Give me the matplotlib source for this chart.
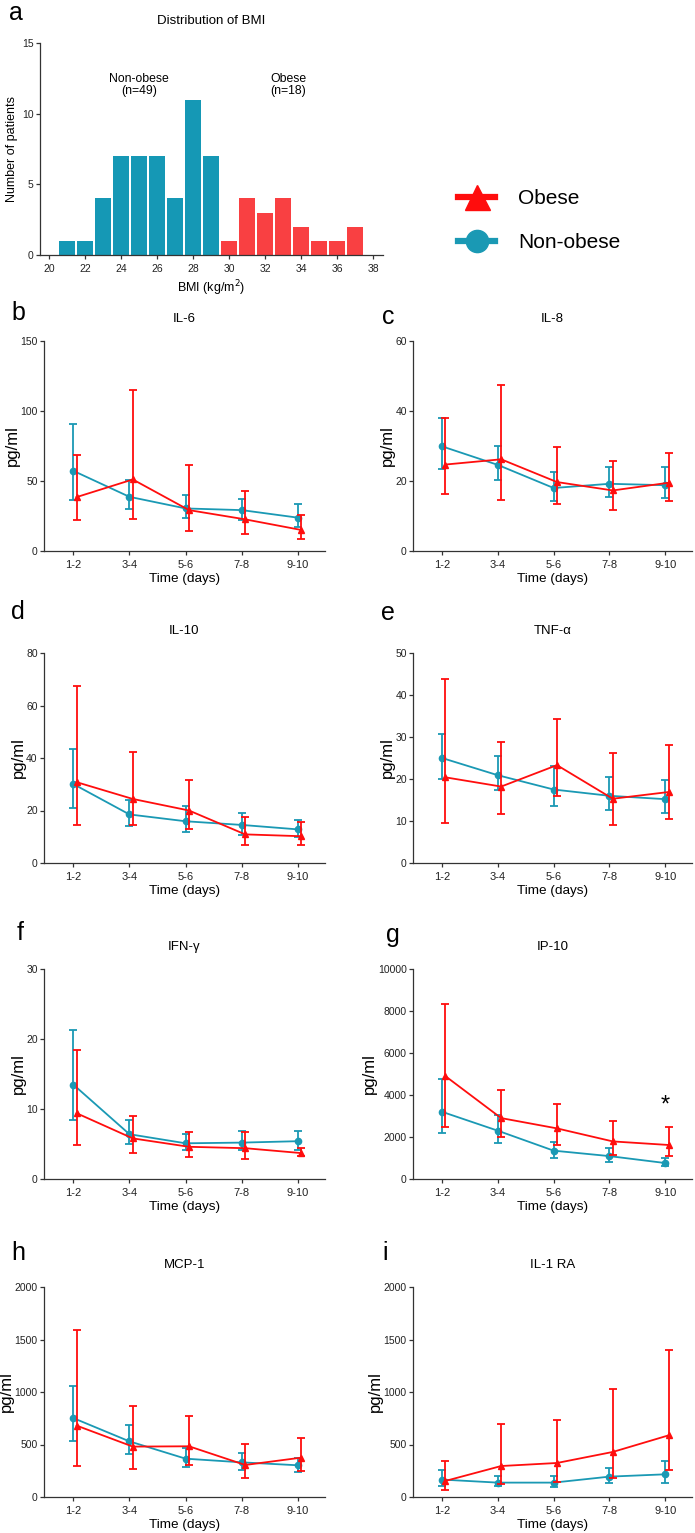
import numpy as np
import matplotlib
matplotlib.use("Agg")
import matplotlib.pyplot as plt
from matplotlib.lines import Line2D

plt.rcParams['font.family'] = ['Liberation Sans', 'DejaVu Sans']

W, H = 695, 1533
BLUE = '#1a99b4'
RED = '#ff0d0d'
HIST_BLUE = '#1598b5'
HIST_RED = '#f94042'
AXC = '#333333'

# histogram data
bmi_nonobese = [21, 22, 23, 24, 25, 26, 27, 28, 29]
count_nonobese = [1, 1, 4, 7, 7, 7, 4, 11, 7]
bmi_obese = [30, 31, 32, 33, 34, 35, 36, 37]
count_obese = [1, 4, 3, 4, 2, 1, 1, 2]

times = ['1-2', '3-4', '5-6', '7-8', '9-10']

# median and error bar ends
il6_non = [57.3, 38.7, 30.4, 29.2, 23.8]
il6_non_lo = [36.4, 29.7, 23.8, 22.0, 16.9]
il6_non_hi = [90.6, 51.0, 39.9, 36.8, 33.3]
il6_ob = [38.5, 51.1, 29.2, 22.6, 15.0]
il6_ob_lo = [21.9, 23.1, 14.0, 11.9, 8.6]
il6_ob_hi = [68.9, 114.8, 61.3, 42.8, 25.9]

il8_non = [29.9, 24.6, 18.0, 19.2, 18.8]
il8_non_lo = [23.5, 20.4, 14.3, 15.5, 15.0]
il8_non_hi = [38.0, 30.0, 22.7, 24.0, 23.9]
il8_ob = [24.7, 26.2, 19.7, 17.3, 19.5]
il8_ob_lo = [16.2, 14.5, 13.3, 11.7, 14.2]
il8_ob_hi = [38.0, 47.5, 29.7, 25.7, 28.0]

il10_non = [30.1, 18.5, 15.9, 14.5, 12.8]
il10_non_lo = [21.1, 14.2, 11.8, 10.5, 9.9]
il10_non_hi = [43.4, 24.0, 21.9, 19.1, 16.2]
il10_ob = [30.8, 24.4, 20.0, 10.9, 10.2]
il10_ob_lo = [14.4, 14.4, 12.8, 7.0, 7.0]
il10_ob_hi = [67.5, 42.4, 31.6, 17.6, 15.7]

tnf_non = [25.0, 20.9, 17.5, 16.0, 15.2]
tnf_non_lo = [20.1, 17.3, 13.5, 12.6, 11.8]
tnf_non_hi = [30.7, 25.4, 23.0, 20.4, 19.7]
tnf_ob = [20.4, 18.2, 23.3, 15.3, 16.9]
tnf_ob_lo = [9.6, 11.6, 16.0, 9.1, 10.5]
tnf_ob_hi = [43.8, 28.7, 34.4, 26.1, 28.0]

ifn_non = [13.5, 6.4, 5.1, 5.2, 5.4]
ifn_non_lo = [8.5, 5.0, 4.2, 4.1, 4.2]
ifn_non_hi = [21.3, 8.4, 6.4, 6.8, 6.9]
ifn_ob = [9.4, 5.8, 4.6, 4.4, 3.7]
ifn_ob_lo = [4.9, 3.7, 3.1, 2.9, 3.3]
ifn_ob_hi = [18.4, 9.0, 6.7, 6.7, 4.4]

ip10_non = [3200, 2300, 1350, 1090, 760]
ip10_non_lo = [2170, 1700, 1015, 810, 620]
ip10_non_hi = [4740, 3070, 1775, 1460, 980]
ip10_ob = [4900, 2900, 2410, 1790, 1620]
ip10_ob_lo = [2490, 2010, 1620, 1140, 1090]
ip10_ob_hi = [8350, 4230, 3570, 2770, 2460]

mcp_non = [752, 530, 365, 330, 302]
mcp_non_lo = [533, 410, 286, 254, 238]
mcp_non_hi = [1057, 689, 470, 419, 371]
mcp_ob = [680, 480, 483, 305, 375]
mcp_ob_lo = [295, 267, 302, 184, 251]
mcp_ob_hi = [1590, 867, 768, 508, 562]

il1ra_non = [166, 137, 137, 194, 216]
il1ra_non_lo = [105, 105, 99, 137, 137]
il1ra_non_hi = [261, 197, 197, 280, 344]
il1ra_ob = [153, 295, 324, 429, 587]
il1ra_ob_lo = [64, 127, 143, 181, 254]
il1ra_ob_hi = [341, 698, 730, 1032, 1397]

panels = [
    ('b', 'IL-6', il6_non, il6_non_lo, il6_non_hi, il6_ob, il6_ob_lo, il6_ob_hi, [0, 50, 100, 150]),
    ('c', 'IL-8', il8_non, il8_non_lo, il8_non_hi, il8_ob, il8_ob_lo, il8_ob_hi, [0, 20, 40, 60]),
    ('d', 'IL-10', il10_non, il10_non_lo, il10_non_hi, il10_ob, il10_ob_lo, il10_ob_hi, [0, 20, 40, 60, 80]),
    ('e', 'TNF-α', tnf_non, tnf_non_lo, tnf_non_hi, tnf_ob, tnf_ob_lo, tnf_ob_hi, [0, 10, 20, 30, 40, 50]),
    ('f', 'IFN-γ', ifn_non, ifn_non_lo, ifn_non_hi, ifn_ob, ifn_ob_lo, ifn_ob_hi, [0, 10, 20, 30]),
    ('g', 'IP-10', ip10_non, ip10_non_lo, ip10_non_hi, ip10_ob, ip10_ob_lo, ip10_ob_hi, [0, 2000, 4000, 6000, 8000, 10000]),
    ('h', 'MCP-1', mcp_non, mcp_non_lo, mcp_non_hi, mcp_ob, mcp_ob_lo, mcp_ob_hi, [0, 500, 1000, 1500, 2000]),
    ('i', 'IL-1 RA', il1ra_non, il1ra_non_lo, il1ra_non_hi, il1ra_ob, il1ra_ob_lo, il1ra_ob_hi, [0, 500, 1000, 1500, 2000]),
]


def px_axes(fig, left, top, right, bottom):
    return fig.add_axes([left / W, 1 - bottom / H, (right - left) / W, (bottom - top) / H])


def style(ax):
    for s in ['top', 'right']:
        ax.spines[s].set_visible(False)
    for s in ['left', 'bottom']:
        ax.spines[s].set_color(AXC)
        ax.spines[s].set_linewidth(0.9)
    ax.tick_params(colors=AXC, labelcolor='#222222', width=0.9, length=3, labelsize=7.5)
    ax.tick_params(axis='y', pad=1.5)


fig = plt.figure(figsize=(W / 100, H / 100), dpi=100)

# panel a
ax = px_axes(fig, 40, 43, 383, 255)
style(ax)
ax.bar(bmi_nonobese, count_nonobese, width=0.88, color=HIST_BLUE)
ax.bar(bmi_obese, count_obese, width=0.88, color=HIST_RED)
ax.set_xlim(19.5, 38.55)
ax.set_ylim(0, 15)
ax.set_xticks(range(20, 39, 2))
ax.set_yticks([0, 5, 10, 15])
ax.set_xlabel('BMI (kg/m$^2$)', fontsize=9, labelpad=3)
ax.set_ylabel('Number of patients', fontsize=9, labelpad=3)
ax.set_title('Distribution of BMI', fontsize=9.5, pad=14)
ax.text(25, 12, 'Non-obese\n(n=49)', ha='center', va='center', fontsize=8.8, linespacing=1.0)
ax.text(33.3, 12, 'Obese\n(n=18)', ha='center', va='center', fontsize=8.8, linespacing=1.0)
fig.text(16 / W, 1 - 1 / H, 'a', fontsize=18, ha='center', va='top')

# legend
handles = [
    Line2D([], [], color=RED, lw=4.5, marker='^', markersize=18),
    Line2D([], [], color=BLUE, lw=4.5, marker='o', markersize=16),
]
fig.legend(handles, ['Obese', 'Non-obese'], loc='upper left',
           bbox_to_anchor=(448 / W, 1 - 179 / H), frameon=False, fontsize=15,
           handlelength=1.75, handletextpad=1.1, labelspacing=1.2, borderpad=0)

# line panels
col_x = [(44, 325), (413, 692)]
row_bottom = [551, 863, 1179, 1497]
letter_pos = {'b': (18, 313), 'c': (388, 317), 'd': (18, 612), 'e': (388, 613),
              'f': (20, 933), 'g': (393, 935), 'h': (18, 1253), 'i': (385, 1253)}
x = np.arange(len(times))

for k, (letter, name, nm, nl, nh, om, ol, oh, yt) in enumerate(panels):
    r, c = divmod(k, 2)
    left, right = col_x[c]
    bottom = row_bottom[r]
    ax = px_axes(fig, left, bottom - 210, right, bottom)
    style(ax)
    nm, nl, nh = np.array(nm), np.array(nl), np.array(nh)
    om, ol, oh = np.array(om), np.array(ol), np.array(oh)
    ax.errorbar(x, nm, yerr=[nm - nl, nh - nm], color=BLUE, marker='o', markersize=4.5,
                lw=1.3, elinewidth=1.3, capsize=3, capthick=1.3, zorder=3, clip_on=False)
    ax.errorbar(x + 0.06, om, yerr=[om - ol, oh - om], color=RED, marker='^', markersize=4,
                lw=1.3, elinewidth=1.3, capsize=3, capthick=1.3, zorder=4, clip_on=False)
    ax.set_xlim(-0.52, 4.48)
    ax.set_ylim(0, yt[-1])
    ax.set_yticks(yt)
    ax.set_xticks(x)
    ax.set_xticklabels(times, fontsize=8)
    ax.set_xlabel('Time (days)', fontsize=9.7, labelpad=2)
    ax.set_ylabel('pg/ml', fontsize=12, labelpad=0.5)
    ax.text(0.5, 1 + 22 / 210, name, transform=ax.transAxes, ha='center', va='center', fontsize=9.5)
    lx, ly = letter_pos[letter]
    fig.text(lx / W, 1 - ly / H, letter, fontsize=18, ha='center', va='center')
    if letter == 'g':
        ax.text(4, 3500, '*', ha='center', va='center', fontsize=17)

fig.savefig('out.png', dpi=100)
